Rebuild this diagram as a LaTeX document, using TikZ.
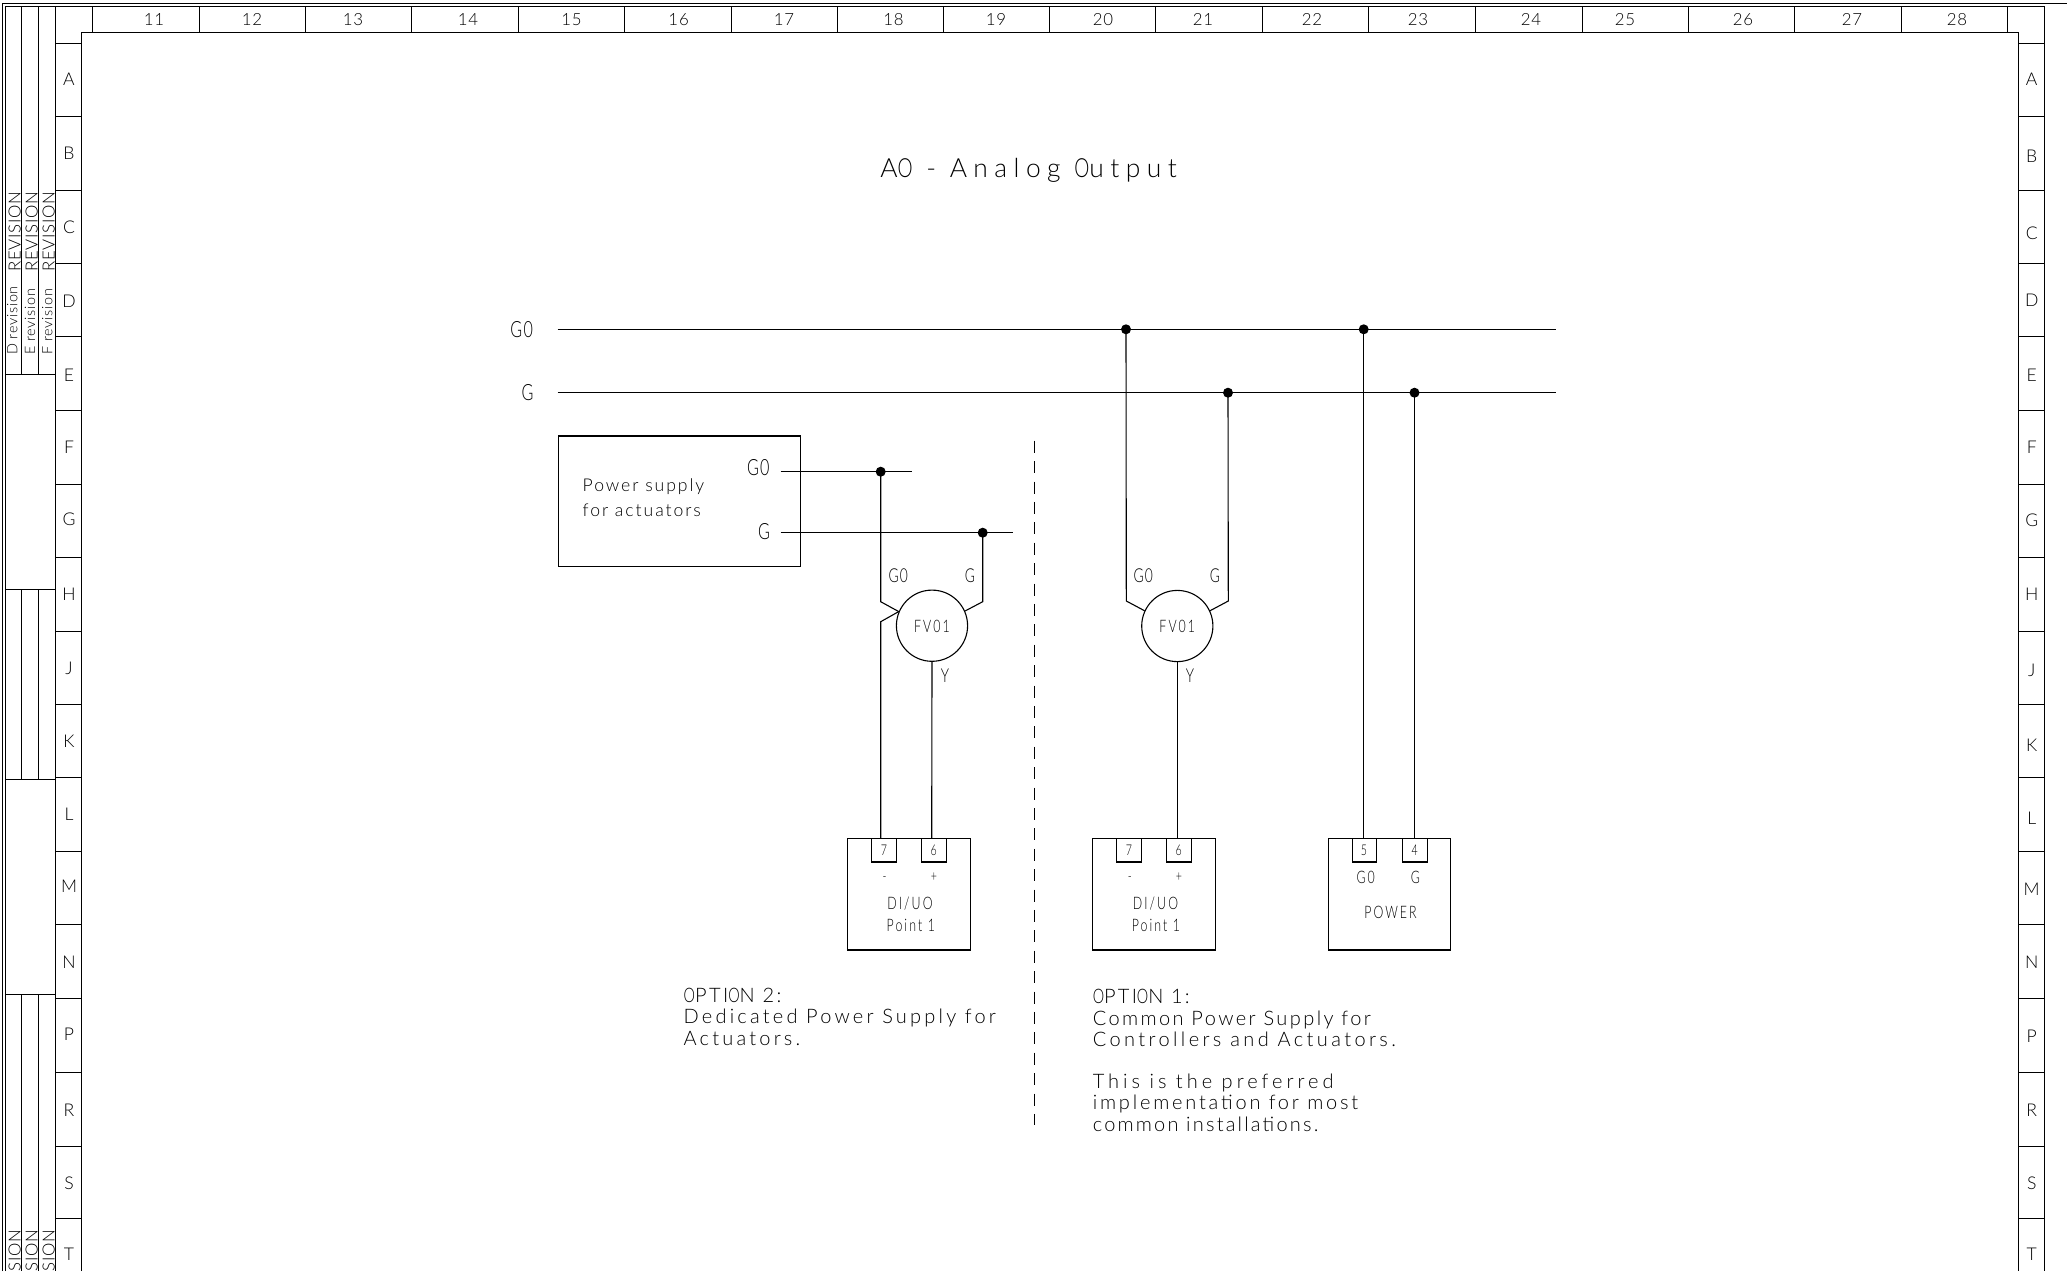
\documentclass[tikz,border=0pt]{standalone}
\usepackage{fontspec}
\setmainfont[LetterSpace=5]{Lato Light}
\newfontfamily\nar[FakeStretch=0.72,LetterSpace=6]{Lato Light}
\newfontfamily\wtxt[LetterSpace=12]{Lato Light}
\newfontfamily\wtxtb[LetterSpace=11]{Lato Light}
\newfontfamily\wtxtc[LetterSpace=14]{Lato Light}
\newfontfamily\wwtxt[LetterSpace=16]{Lato Light}
\newfontfamily\wtxtd[LetterSpace=17]{Lato Light}
\newfontfamily\wtxte[LetterSpace=20]{Lato Light}
\newfontfamily\wpsu[LetterSpace=11]{Lato Light}
\newfontfamily\whd[LetterSpace=24.5]{Lato Light}
\newfontfamily\warsml[FakeStretch=0.72,LetterSpace=12]{Lato Light}
\newfontfamily\warhd[FakeStretch=0.72,LetterSpace=24.5]{Lato Light}
\newfontfamily\wartxt[FakeStretch=0.72,LetterSpace=16]{Lato Light}
\newcommand{\oo}{{\wartxt O}}
\newcommand{\ooh}{{\warhd O}}
\tikzset{
  wire/.style={line width=0.55pt,black},
  frameline/.style={line width=0.5pt,black},
  boxn/.style={draw,line width=0.55pt,rectangle,inner sep=0pt,anchor=center},
  termn/.style={boxn,minimum width=12.25pt,minimum height=11.65pt},
  dotn/.style={circle,fill=black,draw=none,inner sep=0pt,minimum size=5pt},
  circn/.style={circle,draw,line width=0.55pt,inner sep=0pt,minimum size=35.6pt},
  txt/.style={inner sep=0pt,anchor=base west,font=\wtxt\fontsize{10}{10}\selectfont},
  txtw/.style={txt,font=\wwtxt\fontsize{10}{10}\selectfont},
  txtb/.style={txt,font=\wtxtb\fontsize{10}{10}\selectfont},
  txtc/.style={txt,font=\wtxtc\fontsize{10}{10}\selectfont},
  txtd/.style={txt,font=\wtxtd\fontsize{10}{10}\selectfont},
  txte/.style={txt,font=\wtxte\fontsize{10}{10}\selectfont},
  psut/.style={inner sep=0pt,anchor=base west,font=\wpsu\fontsize{8.8}{9}\selectfont},
  hd/.style={inner sep=0pt,anchor=base west,font=\whd\fontsize{13.2}{13}\selectfont},
  big/.style={inner sep=0pt,anchor=base,font=\nar\fontsize{11.2}{11}\selectfont},
  mid/.style={inner sep=0pt,anchor=base,font=\nar\fontsize{9.6}{10}\selectfont},
  sml/.style={inner sep=0pt,anchor=base,font=\warsml\fontsize{8.6}{9}\selectfont},
  tinyl/.style={inner sep=0pt,anchor=base,font=\nar\fontsize{7.4}{8}\selectfont},
  collab/.style={inner sep=0pt,anchor=base,font=\fontsize{8.4}{8}\selectfont},
  rowlab/.style={inner sep=0pt,anchor=base,font=\fontsize{8.8}{8}\selectfont},
  revbig/.style={inner sep=0pt,anchor=base east,rotate=90,font=\fontsize{8.4}{8}\selectfont},
  revsml/.style={inner sep=0pt,anchor=base west,rotate=90,font=\fontsize{7.2}{8}\selectfont},
}
\begin{document}
\begin{tikzpicture}[x=0.5pt,y=-0.5pt]
\useasboundingbox (0,0) rectangle (2067,1271);
% ---- sheet frame
\draw[frameline] (2.7,1271) -- (2.7,3.3) -- (2067,3.3);
\draw[frameline] (5.3,1271) -- (5.3,6.7) -- (2044,6.7) -- (2044,1271);
\draw[frameline] (55.3,6.7) -- (55.3,1271);
\draw[frameline] (81,1271) -- (81,32.3) -- (2018.7,32.3) -- (2018.7,1271);
\foreach \x in {92.5,199,305.5,411.4,518,624.4,731,837,943,1049,1155.7,1262,1368.5,1475.5,1582,1688,1794.6,1901,2007}
  \draw[frameline] (\x,6.7) -- (\x,32.3);
\foreach \y in {43.3,116.9,190.7,263.3,336.7,410.5,484,557.4,631,704.5,777.7,851.3,924.5,998.5,1072,1146,1218.5}{
  \draw[frameline] (55.3,\y) -- (81,\y);
  \draw[frameline] (2018.7,\y) -- (2044,\y);
}
% revision block
\draw[frameline] (21.7,6.7) -- (21.7,374);
\draw[frameline] (38.7,6.7) -- (38.7,374);
\draw[frameline] (5.3,374) -- (55.3,374);
\draw[frameline] (5.3,589) -- (55.3,589);
\draw[frameline] (5.3,779) -- (55.3,779);
\draw[frameline] (21.7,589) -- (21.7,779);
\draw[frameline] (38.7,589) -- (38.7,779);
\draw[frameline] (5.3,994.5) -- (55.3,994.5);
\draw[frameline] (21.7,994.5) -- (21.7,1271);
\draw[frameline] (38.7,994.5) -- (38.7,1271);
\foreach \n/\x/\xs/\l in {ra/20.5/17.3/D,rb/37.5/35/E,rc/54.5/52.3/F}{
  \node[revbig] (\n big) at (\x,191) {REVISION};
  \node[revsml] (\n sml) at (\xs,355) {\l\ revision};
  \node[revbig] (\n cut) at (\x,1229.3) {SION};
}
% column labels
\foreach \t/\x in {11/154,12/252,13/353,14/468,15/571.5,16/678.6,17/784,18/893.5,19/996,20/1103,21/1203,22/1312,23/1418,24/1531,25/1625,26/1743,27/1852,28/1957}
  \node[collab] (col\t) at (\x,25.8) {\t};
% row labels
\foreach \t/\yl/\yr in {A/79/79,B/153/156.7,C/227/233,D/301/300.5,E/375/375.7,F/447/447,G/519/520.7,H/594/594.5,J/668/670.6,K/741/745.5,L/814.5/818,M/886/889,N/962/962,P/1034.8/1036.5,R/1110/1110,S/1183/1183,T/1254/1254.7}{
  \node[rowlab] (rl\t) at (69,\yl+6) {\t};
  \node[rowlab] (rr\t) at (2031.7,\yr+6) {\t};
}
% ---- title
\node[hd] (title) at (880,177.3) {A\ooh\ - Analog \ooh utput};
% ---- buses
\coordinate (busAL) at (557.6,329.3);
\coordinate (busAR) at (1555.6,329.3);
\coordinate (busBL) at (557.6,392.7);
\coordinate (busBR) at (1555.6,392.7);
\node[big] (lbusA) at (521.7,337) {G0};
\node[big] (lbusB) at (527.5,400.5) {G};
\draw[wire] (busAL) -- (busAR);
\draw[wire] (busBL) -- (busBR);
\node[dotn] (dA1) at (1126,329.3) {};
\node[dotn] (dA2) at (1363.7,329.3) {};
\node[dotn] (dB1) at (1228,392.7) {};
\node[dotn] (dB2) at (1414.5,392.7) {};
% ---- power supply box
\node[boxn,minimum width=121pt,minimum height=65.35pt] (psu) at (679.7,501.35) {};
\node[psut] (lpw) at (582.3,491.5) {Power supply};
\node[psut] (lfa) at (582.3,516.5) {for actuators};
\node[big] (lps0) at (758.3,475.7) {G0};
\node[big] (lpsg) at (764,539.7) {G};
\coordinate (psAL) at (780.7,471.7);
\coordinate (psAR) at (912,471.7);
\coordinate (psBL) at (780.7,532.7);
\coordinate (psBR) at (1013.3,532.7);
\draw[wire] (psAL) -- (psAR);
\draw[wire] (psBL) -- (psBR);
\node[dotn] (dP1) at (880.7,471.7) {};
\node[dotn] (dP2) at (982.7,532.7) {};
% ---- actuators
\node[circn] (fv2) at (932,625.7) {};
\node[sml] (lfv2) at (932,632.5) {FV01};
\node[circn] (fv1) at (1177.3,626) {};
\node[sml] (lfv1) at (1177.3,632.5) {FV01};
\node[mid] (l2g0) at (898.3,582.3) {G0};
\node[mid] (l2g) at (970,582.3) {G};
\node[mid] (l2y) at (945,682) {Y};
\node[mid] (l1g0) at (1143.3,582) {G0};
\node[mid] (l1g) at (1215,582) {G};
\node[mid] (l1y) at (1190,682) {Y};
% ---- field boxes
\node[boxn,minimum width=61.15pt,minimum height=55.65pt] (b2) at (908.95,894.35) {};
\node[termn] (b2t7) at (884.1,850.35) {};
\node[termn] (b2t6) at (933.85,850.35) {};
\node[boxn,minimum width=61.6pt,minimum height=55.65pt] (b1) at (1154,894.35) {};
\node[termn] (b1t7) at (1129.15,850.35) {};
\node[termn] (b1t6) at (1178.9,850.35) {};
\node[boxn,minimum width=61.15pt,minimum height=55.65pt] (b3) at (1389.45,894.35) {};
\node[termn] (b3t5) at (1364.65,850.35) {};
\node[termn] (b3t4) at (1414.8,850.35) {};
\foreach \n/\t/\x in {a/7/883.9,b/6/933.6,c/7/1128.9,d/6/1178.7,e/5/1364,f/4/1414.6}
  \node[tinyl] (tl\n) at (\x,855) {\t};
\foreach \n/\t/\x in {a/-/884.7,b/+/934,c/-/1129.8,d/+/1179}
  \node[tinyl] (sg\n) at (\x,881) {\t};
\node[sml] (l2di) at (910,909.5) {DI/UO};
\node[sml] (l2pt) at (910.8,931) {Point 1};
\node[sml] (l1di) at (1155.5,909.5) {DI/UO};
\node[sml] (l1pt) at (1155.9,931) {Point 1};
\node[sml] (l3g0) at (1365.7,883) {G0};
\node[sml] (l3g) at (1415.4,883) {G};
\node[sml] (l3p) at (1390.5,918) {POWER};
% ---- wires option 2
\coordinate (w2a) at (880.7,601.7);
\coordinate (w2b) at (880.7,621.7);
\coordinate (w2c) at (982.7,601.7);
\coordinate (w2y) at (931.7,700);
\draw[wire] (dP1.center) -- (w2a) -- (fv2.157);
\draw[wire] (fv2.157) -- (w2b) -- (w2b |- b2.north);
\draw[wire] (dP2.center) -- (w2c) -- (fv2.24);
\draw[wire] (fv2.south) -- (w2y |- b2.north);
% ---- wires option 1
\coordinate (w1a) at (1126.3,601);
\coordinate (w1c) at (1228.3,601);
\draw[wire] (dA1.center) -- (w1a) -- (fv1.155);
\draw[wire] (dB1.center) -- (w1c) -- (fv1.25);
\draw[wire] (fv1.south) -- (fv1.south |- b1.north);
\draw[wire] (dA2.center) -- (dA2.center |- b3.north);
\draw[wire] (dB2.center) -- (dB2.center |- b3.north);
% ---- divider
\coordinate (divT) at (1034.8,440.7);
\coordinate (divB) at (1034.8,1125);
\draw[wire,dash pattern=on 6pt off 4.2pt] (divT) -- (divB);
% ---- notes
\node[txt] (n2a) at (683.3,1002) {\oo PTI\oo N 2:};
\node[txtw] (n2b) at (683.3,1023.7) {Dedicated Power Supply for};
\node[txtw] (n2c) at (683.3,1045.3) {Actuators.};
\node[txtb] (n1a) at (1092.4,1003.7) {\oo PTI\oo N 1:};
\node[txt] (n1b) at (1092.4,1025) {Common Power Supply for};
\node[txtd] (n1c) at (1092.4,1046.3) {Controllers and Actuators.};
\node[txte] (n1d) at (1092.4,1088) {This is the preferred};
\node[txtc] (n1e) at (1092.4,1109.7) {implementation for most};
\node[txtb] (n1f) at (1092.4,1131) {common installations.};
\end{tikzpicture}
\end{document}
